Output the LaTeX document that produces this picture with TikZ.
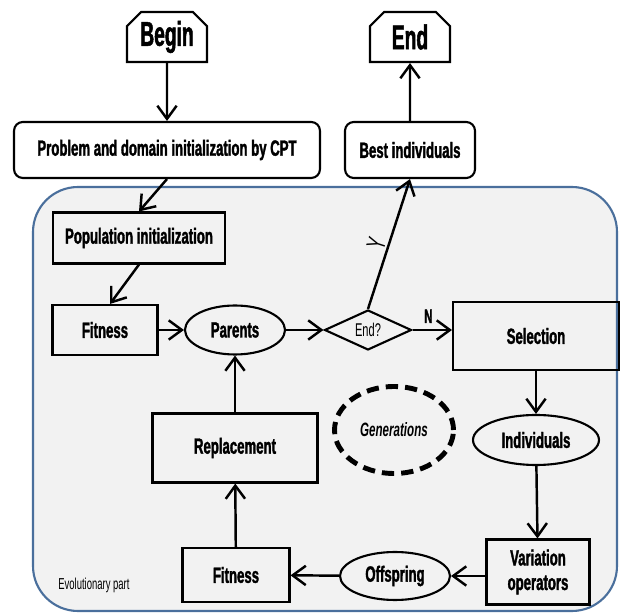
\documentclass[tikz,border=0pt]{standalone}
\usepackage{fontspec}
\setmainfont{Liberation Sans}[FakeStretch=0.6,BoldFeatures={FakeBold=1.5}]
\newfontfamily\tallfont{Liberation Sans}[FakeStretch=0.56,BoldFeatures={FakeBold=1.5}]
\usetikzlibrary{arrows.meta,shapes.geometric,shapes.misc}

\definecolor{panelfill}{HTML}{F2F2F2}
\definecolor{panelline}{HTML}{4A6F9C}

\tikzset{
  box/.style={draw,line width=1.2pt,inner sep=0pt,font=\fontsize{12.5}{14}\selectfont\bfseries,align=center},
  rbox/.style={box,rounded corners=5pt},
  ebox/.style={box,ellipse},
  tbox/.style={draw,line width=1.2pt,inner sep=0pt,chamfered rectangle,chamfered rectangle xsep=4pt,chamfered rectangle ysep=4pt,chamfered rectangle corners={north west,north east},font=\tallfont\fontsize{19.5}{21}\selectfont\bfseries},
  flow/.style={line width=1.4pt,-{Straight Barb[length=7.5pt,width=11pt,line width=1.4pt]}},
}

\begin{document}
\begin{tikzpicture}[x=0.02cm,y=-0.02cm]
  \useasboundingbox (0,0) rectangle (626,614);
  % evolutionary part
  \draw[panelline,fill=panelfill,line width=1.2pt,rounded corners=0.9cm] (33,187) rectangle (617,611);
  \node[font=\fontsize{9}{10}\selectfont,anchor=west,inner sep=0pt] (evo) at (58,585) {Evolutionary part};

  \node[tbox,minimum width=1.6cm,minimum height=1cm] (begin) at (167,37) {Begin};
  \node[tbox,minimum width=1.6cm,minimum height=1cm] (end) at (410,37) {End};
  \node[rbox,fill=white,minimum width=6.12cm,minimum height=1.12cm] (prob) at (167,150) {Problem and domain initialization by CPT};
  \node[rbox,fill=white,minimum width=2.6cm,minimum height=1.12cm] (best) at (410,150) {Best individuals};

  \node[box,minimum width=3.44cm,minimum height=1.02cm] (popinit) at (139,238) {Population initialization};
  \node[box,minimum width=2.1cm,minimum height=1cm] (fit1) at (105,330) {Fitness};
  \node[ebox,minimum width=2cm,minimum height=0.98cm] (parents) at (235,330) {Parents};
  \node[draw,diamond,line width=1.2pt,inner sep=0pt,minimum width=1.74cm,minimum height=0.8cm,font=\fontsize{10.5}{12}\selectfont] (test) at (368,330) {End?};
  \node[box,minimum width=3.32cm,minimum height=1.36cm] (sel) at (536,336) {Selection};
  \node[ebox,minimum width=2.52cm,minimum height=1cm] (indiv) at (536,440) {Individuals};
  \node[draw,ellipse,dash pattern=on 7pt off 4pt,line width=2.8pt,inner sep=0pt,minimum width=2.38cm,minimum height=1.74cm,font=\fontsize{11}{12}\selectfont\bfseries\itshape] (gen) at (394,430) {Generations};
  \node[box,minimum width=3.3cm,minimum height=1.38cm] (repl) at (235,448) {Replacement};
  \node[box,minimum width=2.14cm,minimum height=1.08cm] (fit2) at (236,575) {Fitness};
  \node[ebox,minimum width=2.2cm,minimum height=0.96cm] (off) at (395,576) {Offspring};
  \node[box,minimum width=2.06cm,minimum height=1.3cm] (var) at (538,572) {Variation\\operators};

  \draw[flow] (begin) -- (prob);
  \draw[flow] (prob.south) -- (popinit.north);
  \draw[flow] (popinit.south) -- ([xshift=0.1cm]fit1.north);
  \draw[flow] (fit1) -- (parents);
  \draw[flow] (parents) -- (test);
  \draw[flow] (test.east) -- node[pos=0.4,above,font=\fontsize{11}{12}\selectfont\bfseries] (nlabel) {N} (test.east -| sel.west);
  \draw[flow] (test.north) -- node[pos=0.47,sloped,above,inner sep=1pt,font=\fontsize{15}{15}\selectfont] (ylabel) {Y} (best.south);
  \draw[flow] (best) -- (end);
  \draw[flow] (sel) -- (indiv);
  \draw[flow] (indiv) -- (var);
  \draw[flow] (var.west |- off.east) -- (off.east);
  \draw[flow] (off) -- (fit2);
  \draw[flow] (fit2) -- (repl);
  \draw[flow] (repl) -- (parents);
\end{tikzpicture}
\end{document}
